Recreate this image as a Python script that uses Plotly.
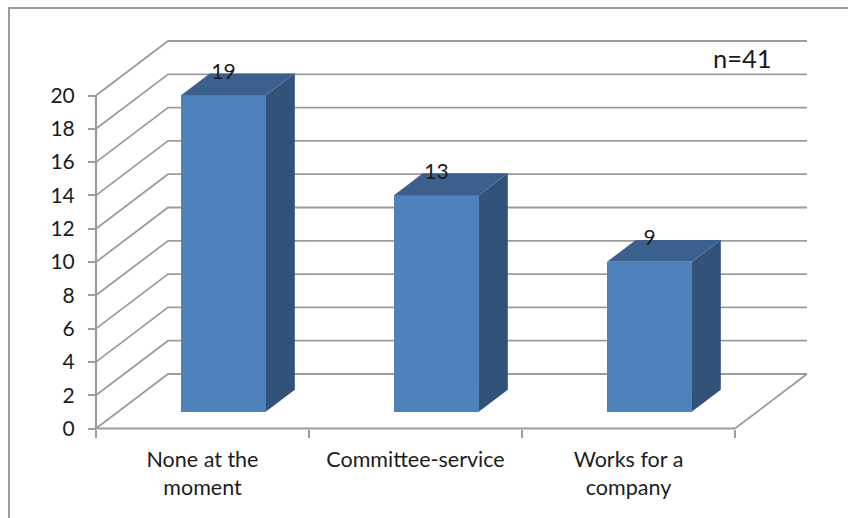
import plotly.graph_objects as go

# Survey responses
categories = ["None at the<br>moment", "Committee-service", "Works for a<br>company"]
values = [19, 13, 9]
y_ticks = list(range(0, 21, 2))
note = "n=41"

W, H = 848, 518

# Front plane of the chart, in pixels
LEFT, RIGHT = 96, 735
BOTTOM, TOP = 428.5, 95.5
X_PER_UNIT = (RIGHT - LEFT) / 3
Y_PER_UNIT = (BOTTOM - TOP) / 20

# The axes fill the whole page so the oblique walls can extend past the front plane
x_range = [-LEFT / X_PER_UNIT, (W - LEFT) / X_PER_UNIT]
y_range = [(BOTTOM - H) / Y_PER_UNIT, BOTTOM / Y_PER_UNIT]

# Oblique projection: how far the back wall shifts from the front plane
DEPTH_X, DEPTH_Y = 72, 54.5
BAR_FRONT, BAR_BACK = 0.31, 0.71
BAR_WIDTH = 85 / X_PER_UNIT
BAR_NUDGE = -1.3 / X_PER_UNIT

GRID = "#9c9c9c"
FRONT = "#4f81bd"
SIDE = "#32527a"
ROOF = "#3c608e"
INK = "#1c1c1c"


def project(x, y, depth):
    """Map a point in data units at a given depth onto the front plane."""
    return x + depth * DEPTH_X / X_PER_UNIT, y + depth * DEPTH_Y / Y_PER_UNIT


fig = go.Figure()

# Wall and floor lines
gx, gy = [], []
for tick in y_ticks:
    for px, py in (project(0, tick, 0), project(0, tick, 1), project(3, tick, 1)):
        gx.append(px)
        gy.append(py)
    gx.append(None)
    gy.append(None)
for px, py in (project(3, 0, 0), project(3, 0, 1)):
    gx.append(px)
    gy.append(py)
fig.add_trace(go.Scatter(x=gx, y=gy, mode="lines",
                         line=dict(color=GRID, width=1.8), hoverinfo="skip"))

# Axis lines along the front plane
fig.add_trace(go.Scatter(x=[0, 0, 3], y=[20, 0, 0], mode="lines",
                         line=dict(color=GRID, width=2.2), hoverinfo="skip"))

# Front faces of the columns; they start at their depth on the floor
base_x, base_y = project(0, 0, BAR_FRONT)
front_centres = [i + 0.5 + base_x + BAR_NUDGE for i in range(len(values))]
fig.add_trace(go.Bar(x=front_centres, y=values, base=base_y, width=BAR_WIDTH,
                     marker=dict(color=FRONT, line=dict(width=0)),
                     xaxis="x2", yaxis="y2"))

# Side and roof faces of each column
for centre, value in zip(front_centres, values):
    xl, xr = centre - BAR_WIDTH / 2, centre + BAR_WIDTH / 2
    bx, by = project(0, 0, BAR_BACK - BAR_FRONT)
    top = base_y + value
    side_x = [xr, xr + bx, xr + bx, xr, xr]
    side_y = [base_y, base_y + by, top + by, top, base_y]
    roof_x = [xl, xr, xr + bx, xl + bx, xl]
    roof_y = [top, top, top + by, top + by, top]
    for fx, fy, colour in ((side_x, side_y, SIDE), (roof_x, roof_y, ROOF)):
        fig.add_trace(go.Scatter(x=fx, y=fy, mode="lines", fill="toself",
                                 fillcolor=colour, line=dict(width=0),
                                 xaxis="x2", yaxis="y2", hoverinfo="skip"))

# Value labels resting on the back edge of each roof
fig.add_trace(go.Scatter(x=front_centres, y=[v + 2.33 for v in values],
                         mode="text", text=[str(v) for v in values],
                         textfont=dict(family="Lato", size=21, color=INK),
                         textposition="middle center",
                         xaxis="x2", yaxis="y2", hoverinfo="skip"))

fig.update_layout(
    template="none",
    width=W, height=H, margin=dict(l=0, r=0, t=0, b=0),
    paper_bgcolor="white", plot_bgcolor="rgba(0,0,0,0)",
    showlegend=False, bargap=0,
    font=dict(family="Lato", size=21, color=INK),
    xaxis=dict(domain=[0, 1], range=x_range, showgrid=False, zeroline=False,
               automargin=False, showline=False,
               anchor="free", position=1 - BOTTOM / H,
               tickmode="array", tickvals=[0.5, 1.5, 2.5], ticktext=categories,
               ticks="", ticklen=0, tickfont=dict(size=21.5), ticklabelstandoff=16,
               minor=dict(tickmode="array", tickvals=[0, 1, 2, 3],
                          ticks="outside", ticklen=8, tickwidth=2,
                          tickcolor=GRID, showgrid=False)),
    yaxis=dict(domain=[0, 1], range=y_range, showgrid=False, zeroline=False,
               automargin=False, showline=False,
               anchor="free", position=LEFT / W,
               tickmode="array", tickvals=y_ticks, ticks="outside", ticklen=8,
               tickwidth=2, tickcolor=GRID, tickfont=dict(size=21),
               ticklabelstandoff=9),
    xaxis2=dict(domain=[0, 1], range=x_range, overlaying="x", visible=False),
    yaxis2=dict(domain=[0, 1], range=y_range, overlaying="y", visible=False),
    # Outer chart frame, open on the right and at the bottom
    shapes=[dict(type="path", xref="paper", yref="paper",
                 path=f"M {9 / W} 0 L {9 / W} {1 - 8 / H} L 1 {1 - 8 / H}",
                 line=dict(color=GRID, width=2))],
    annotations=[dict(text=note, xref="paper", yref="paper",
                      x=742 / W, y=1 - 58.5 / H, showarrow=False,
                      xanchor="center", yanchor="middle",
                      font=dict(family="Lato", size=25.5, color=INK))],
)

fig.write_html("out.html", config=dict(displayModeBar=False))
